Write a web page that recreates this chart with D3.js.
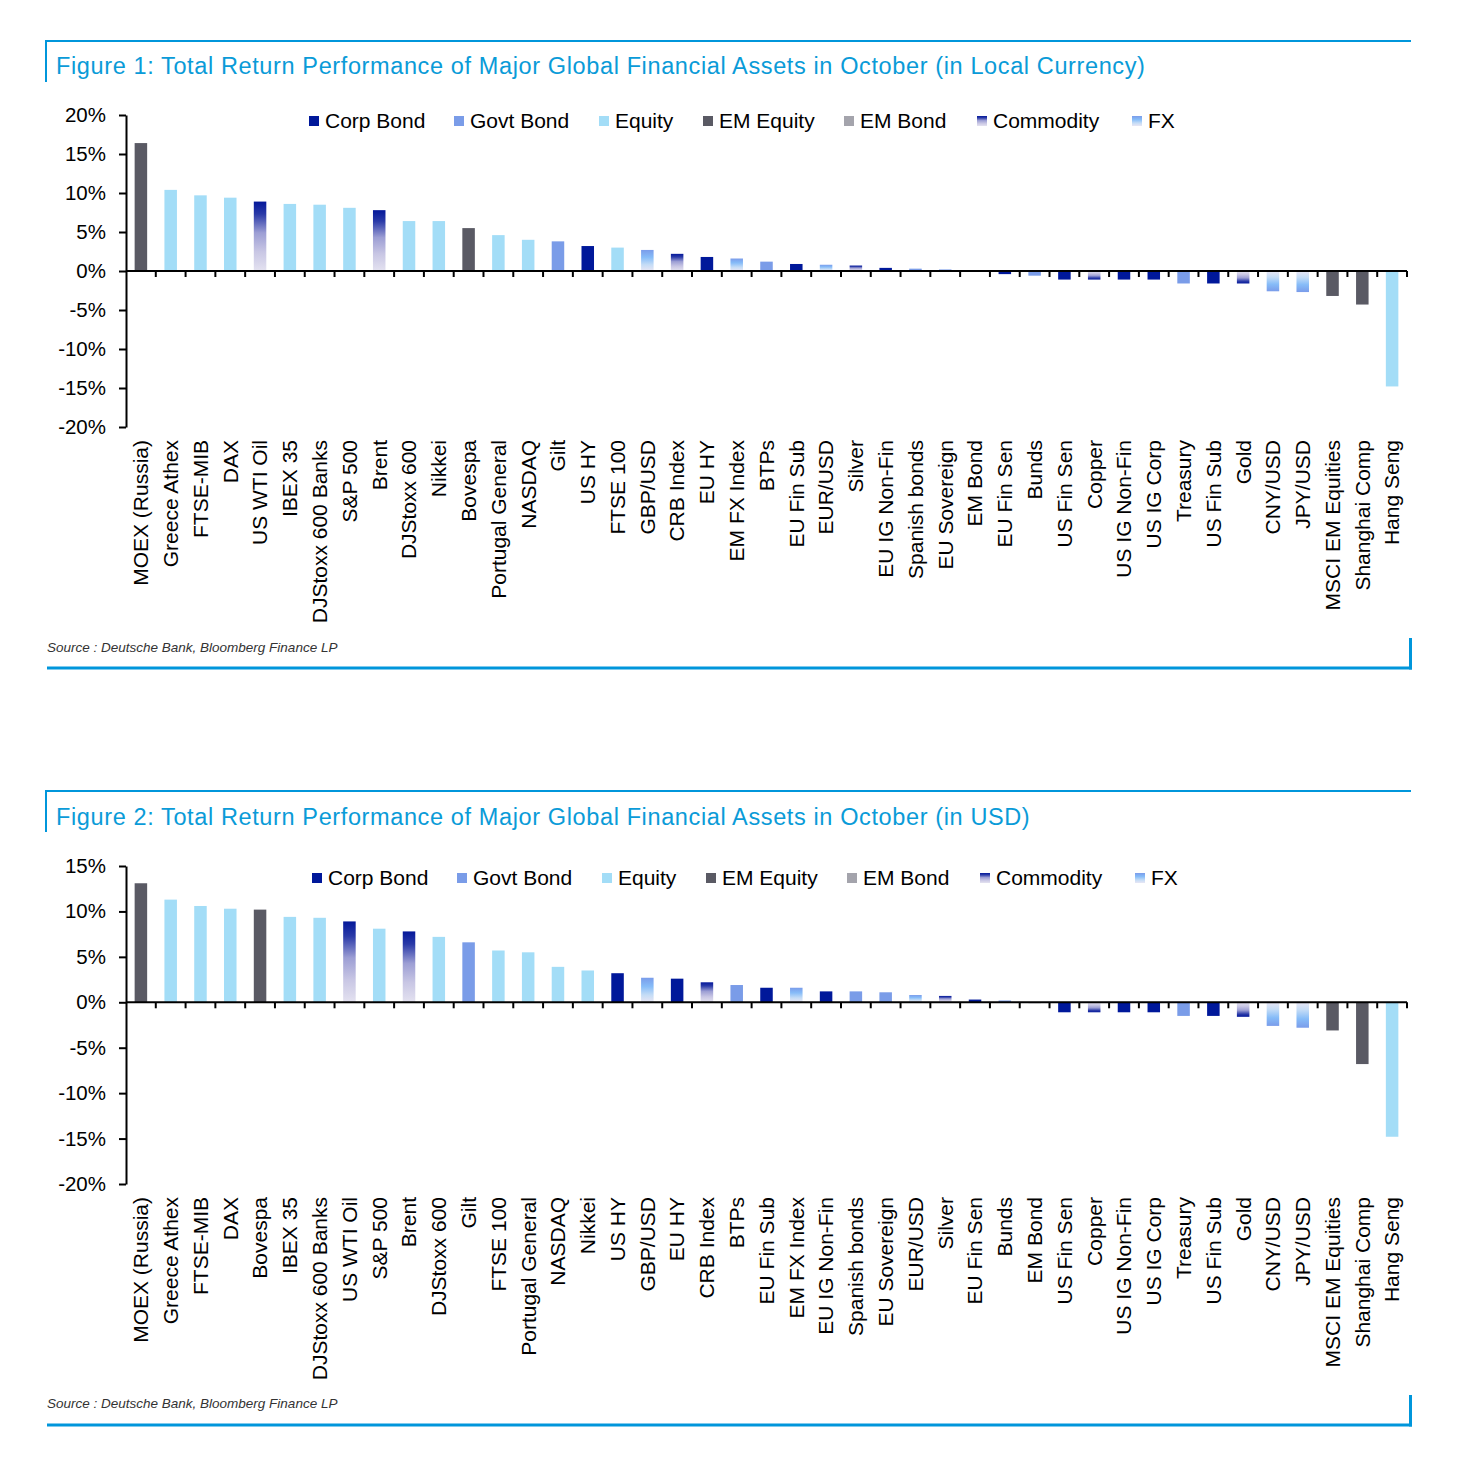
<!DOCTYPE html>
<html>
<head>
<meta charset="utf-8">
<script src="https://cdn.jsdelivr.net/npm/d3@7"></script>
<style>
    body { margin: 0; background: #fff; }
    svg text { font-family: "Liberation Sans", Arial, sans-serif; }
</style>
</head>
<body>
<div id="charts"></div>
<script>
(function () {

    // asset classes (legend order)
    var legendKeys = ['Corp Bond', 'Govt Bond', 'Equity', 'EM Equity', 'EM Bond', 'Commodity', 'FX'];

    var corpBondAssets = ['US HY', 'EU HY', 'EU Fin Sub', 'EU IG Non-Fin', 'EU Fin Sen', 'US Fin Sen', 'US IG Non-Fin', 'US IG Corp', 'US Fin Sub'];
    var govtBondAssets = ['Gilt', 'BTPs', 'Spanish bonds', 'EU Sovereign', 'Bunds', 'Treasury'];
    var equityAssets = ['Greece Athex', 'FTSE-MIB', 'DAX', 'IBEX 35', 'DJStoxx 600 Banks', 'S&P 500', 'DJStoxx 600', 'Nikkei', 'Portugal General', 'NASDAQ', 'FTSE 100', 'Hang Seng'];
    var emEquityAssets = ['MOEX (Russia)', 'Bovespa', 'MSCI EM Equities', 'Shanghai Comp'];
    var emBondAssets = ['EM Bond'];
    var commodityAssets = ['US WTI Oil', 'Brent', 'CRB Index', 'Silver', 'Copper', 'Gold'];
    var fxAssets = ['GBP/USD', 'EM FX Index', 'EUR/USD', 'CNY/USD', 'JPY/USD'];

    // Figure 1: local currency
    var localAssets = ['MOEX (Russia)', 'Greece Athex', 'FTSE-MIB', 'DAX', 'US WTI Oil', 'IBEX 35', 'DJStoxx 600 Banks', 'S&P 500', 'Brent', 'DJStoxx 600',
        'Nikkei', 'Bovespa', 'Portugal General', 'NASDAQ', 'Gilt', 'US HY', 'FTSE 100', 'GBP/USD', 'CRB Index', 'EU HY',
        'EM FX Index', 'BTPs', 'EU Fin Sub', 'EUR/USD', 'Silver', 'EU IG Non-Fin', 'Spanish bonds', 'EU Sovereign', 'EM Bond', 'EU Fin Sen',
        'Bunds', 'US Fin Sen', 'Copper', 'US IG Non-Fin', 'US IG Corp', 'Treasury', 'US Fin Sub', 'Gold', 'CNY/USD', 'JPY/USD',
        'MSCI EM Equities', 'Shanghai Comp', 'Hang Seng'];
    var localReturns = [16.4, 10.4, 9.7, 9.4, 8.9, 8.6, 8.5, 8.1, 7.8, 6.4,
        6.4, 5.5, 4.6, 4.0, 3.8, 3.2, 3.0, 2.7, 2.2, 1.8,
        1.6, 1.2, 0.9, 0.8, 0.7, 0.4, 0.3, 0.2, -0.1, -0.4,
        -0.6, -1.1, -1.1, -1.1, -1.1, -1.6, -1.6, -1.6, -2.6, -2.7,
        -3.2, -4.3, -14.8];
    var localTicks = [20, 15, 10, 5, 0, -5, -10, -15, -20];

    // Figure 2: USD
    var usdAssets = ['MOEX (Russia)', 'Greece Athex', 'FTSE-MIB', 'DAX', 'Bovespa', 'IBEX 35', 'DJStoxx 600 Banks', 'US WTI Oil', 'S&P 500', 'Brent',
        'DJStoxx 600', 'Gilt', 'FTSE 100', 'Portugal General', 'NASDAQ', 'Nikkei', 'US HY', 'GBP/USD', 'EU HY', 'CRB Index',
        'BTPs', 'EU Fin Sub', 'EM FX Index', 'EU IG Non-Fin', 'Spanish bonds', 'EU Sovereign', 'EUR/USD', 'Silver', 'EU Fin Sen', 'Bunds',
        'EM Bond', 'US Fin Sen', 'Copper', 'US IG Non-Fin', 'US IG Corp', 'Treasury', 'US Fin Sub', 'Gold', 'CNY/USD', 'JPY/USD',
        'MSCI EM Equities', 'Shanghai Comp', 'Hang Seng'];
    var usdReturns = [13.1, 11.3, 10.6, 10.3, 10.2, 9.4, 9.3, 8.9, 8.1, 7.8,
        7.2, 6.6, 5.7, 5.5, 3.9, 3.5, 3.2, 2.7, 2.6, 2.2,
        1.9, 1.6, 1.6, 1.2, 1.2, 1.1, 0.8, 0.7, 0.3, 0.2,
        -0.1, -1.1, -1.1, -1.1, -1.1, -1.5, -1.5, -1.6, -2.6, -2.8,
        -3.1, -6.8, -14.8];
    var usdTicks = [15, 10, 5, 0, -5, -10, -15, -20];

    var localTitle = 'Figure 1: Total Return Performance of Major Global Financial Assets in October (in Local Currency)';
    var usdTitle = 'Figure 2: Total Return Performance of Major Global Financial Assets in October (in USD)';
    var sourceNote = 'Source : Deutsche Bank, Bloomberg Finance LP';

    var frameColor = '#0096DB';
    var titleColor = '#0A9BD8';
    var solidColors = {
        'Corp Bond': '#00189A',
        'Govt Bond': '#7A9CE8',
        'Equity': '#A3DDF7',
        'EM Equity': '#5A5A64',
        'EM Bond': '#A4A4AC'
    };
    var gradientStops = {
        'Commodity': [[0, '#04189A'], [0.18, '#2A3AA8'], [0.45, '#9C9ED4'], [0.72, '#C8C6E4'], [1, '#E4E2F0']],
        'FX': [[0, '#7A9CEA'], [0.35, '#86BCF8'], [0.7, '#C4DCF6'], [1, '#E8E6F4']]
    };
    var legendOffsets = [309, 454, 599, 703, 844, 977, 1132];

    var assetClass = {};
    [corpBondAssets, govtBondAssets, equityAssets, emEquityAssets, emBondAssets, commodityAssets, fxAssets]
        .forEach(function (list, i) {
            list.forEach(function (name) { assetClass[name] = legendKeys[i]; });
        });

    var svg = d3.select('#charts')
        .append('svg')
        .attr('width', 1478)
        .attr('height', 1468);

    var defs = svg.append('defs');
    Object.keys(gradientStops).forEach(function (key) {
        ['pos', 'neg'].forEach(function (dir) {
            var g = defs.append('linearGradient')
                .attr('id', gradientId(key, dir))
                .attr('x1', 0).attr('x2', 0)
                .attr('y1', dir === 'pos' ? 0 : 1)
                .attr('y2', dir === 'pos' ? 1 : 0);
            gradientStops[key].forEach(function (s) {
                g.append('stop').attr('offset', s[0]).attr('stop-color', s[1]);
            });
        });
    });

    drawFigure({
        title: localTitle, assets: localAssets, returns: localReturns, ticks: localTicks,
        frameTop: 41, titleY: 74, legendY: 121, legendShift: 0,
        yDomain: [-20, 20], yRange: [427, 115], labelTop: 440,
        sourceY: 652, frameBottom: 668
    });

    drawFigure({
        title: usdTitle, assets: usdAssets, returns: usdReturns, ticks: usdTicks,
        frameTop: 791, titleY: 825, legendY: 878, legendShift: 3,
        yDomain: [-20, 15], yRange: [1184, 866], labelTop: 1197,
        sourceY: 1408, frameBottom: 1425
    });

    function gradientId (key, dir) {
        return 'grad-' + key.toLowerCase() + '-' + dir;
    }

    function fillFor (name, value) {
        var cls = assetClass[name];
        if (gradientStops[cls]) {
            return 'url(#' + gradientId(cls, value < 0 ? 'neg' : 'pos') + ')';
        }
        return solidColors[cls];
    }

    function drawFigure (cfg) {
        var g = svg.append('g');
        var left = 126, right = 1407;

        // frame
        g.append('line').attr('x1', 46).attr('x2', 1411).attr('y1', cfg.frameTop).attr('y2', cfg.frameTop)
            .attr('stroke', frameColor).attr('stroke-width', 2);
        g.append('line').attr('x1', 46).attr('x2', 46).attr('y1', cfg.frameTop - 1).attr('y2', cfg.frameTop + 41)
            .attr('stroke', frameColor).attr('stroke-width', 2);
        g.append('line').attr('x1', 47).attr('x2', 1412).attr('y1', cfg.frameBottom).attr('y2', cfg.frameBottom)
            .attr('stroke', frameColor).attr('stroke-width', 3);
        g.append('line').attr('x1', 1410.5).attr('x2', 1410.5).attr('y1', cfg.frameBottom - 30).attr('y2', cfg.frameBottom + 1.5)
            .attr('stroke', frameColor).attr('stroke-width', 3);

        g.append('text')
            .attr('x', 56).attr('y', cfg.titleY)
            .attr('fill', titleColor)
            .style('font-size', '23.5px')
            .style('letter-spacing', '0.62px')
            .text(cfg.title);

        g.append('text')
            .attr('x', 47).attr('y', cfg.sourceY)
            .attr('fill', '#333')
            .style('font-size', '13.5px')
            .style('font-style', 'italic')
            .text(sourceNote);

        var x = d3.scaleBand()
            .domain(cfg.assets)
            .range([left, right])
            .paddingInner(0.58)
            .paddingOuter(0.29);

        var y = d3.scaleLinear()
            .domain(cfg.yDomain)
            .range(cfg.yRange);

        var data = cfg.assets.map(function (name, i) {
            return { name: name, value: cfg.returns[i] };
        });

        g.selectAll('rect.bar')
            .data(data)
            .enter()
            .append('rect')
            .attr('class', 'bar')
            .attr('x', function (d) { return x(d.name); })
            .attr('width', x.bandwidth())
            .attr('y', function (d) { return y(Math.max(0, d.value)); })
            .attr('height', function (d) { return Math.abs(y(d.value) - y(0)); })
            .attr('fill', function (d) { return fillFor(d.name, d.value); });

        // y axis
        var yAxis = g.append('g')
            .attr('transform', 'translate(' + left + ',0)')
            .call(d3.axisLeft(y)
                .tickValues(cfg.ticks)
                .tickSize(7)
                .tickSizeOuter(0)
                .tickPadding(13)
                .tickFormat(function (d) { return d + '%'; }));
        yAxis.select('.domain').attr('stroke', '#000').attr('stroke-width', 2);
        yAxis.selectAll('.tick line').attr('stroke', '#000').attr('stroke-width', 2);
        yAxis.selectAll('.tick text')
            .attr('fill', '#000')
            .style('font-size', '20.5px')
            .style('font-family', '"Liberation Sans", Arial, sans-serif');

        // x axis at zero
        var y0 = y(0);
        g.append('line')
            .attr('x1', left).attr('x2', right)
            .attr('y1', y0).attr('y2', y0)
            .attr('stroke', '#000').attr('stroke-width', 2);

        g.selectAll('line.xtick')
            .data(cfg.assets)
            .enter()
            .append('line')
            .attr('class', 'xtick')
            .attr('x1', function (d) { return x(d) + x.bandwidth() + x.step() * 0.29; })
            .attr('x2', function (d) { return x(d) + x.bandwidth() + x.step() * 0.29; })
            .attr('y1', y0).attr('y2', y0 + 6)
            .attr('stroke', '#000').attr('stroke-width', 2);

        g.selectAll('text.xlabel')
            .data(cfg.assets)
            .enter()
            .append('text')
            .attr('class', 'xlabel')
            .attr('transform', function (d) {
                return 'translate(' + (x(d) + x.bandwidth() / 2) + ',' + cfg.labelTop + ') rotate(-90)';
            })
            .attr('text-anchor', 'end')
            .attr('dy', '0.35em')
            .style('font-size', '21px')
            .text(function (d) { return d; });

        // legend
        var legend = g.selectAll('g.legend')
            .data(legendKeys)
            .enter()
            .append('g')
            .attr('class', 'legend')
            .attr('transform', function (d, i) {
                return 'translate(' + (legendOffsets[i] + cfg.legendShift) + ',' + cfg.legendY + ')';
            });

        legend.append('rect')
            .attr('x', 0).attr('y', -5)
            .attr('width', 10).attr('height', 10)
            .attr('fill', function (d) {
                return gradientStops[d] ? 'url(#' + gradientId(d, 'pos') + ')' : solidColors[d];
            });

        legend.append('text')
            .attr('x', 16).attr('y', 0)
            .attr('dy', '0.35em')
            .style('font-size', '21px')
            .text(function (d) { return d; });
    }
})();
</script>
</body>
</html>
